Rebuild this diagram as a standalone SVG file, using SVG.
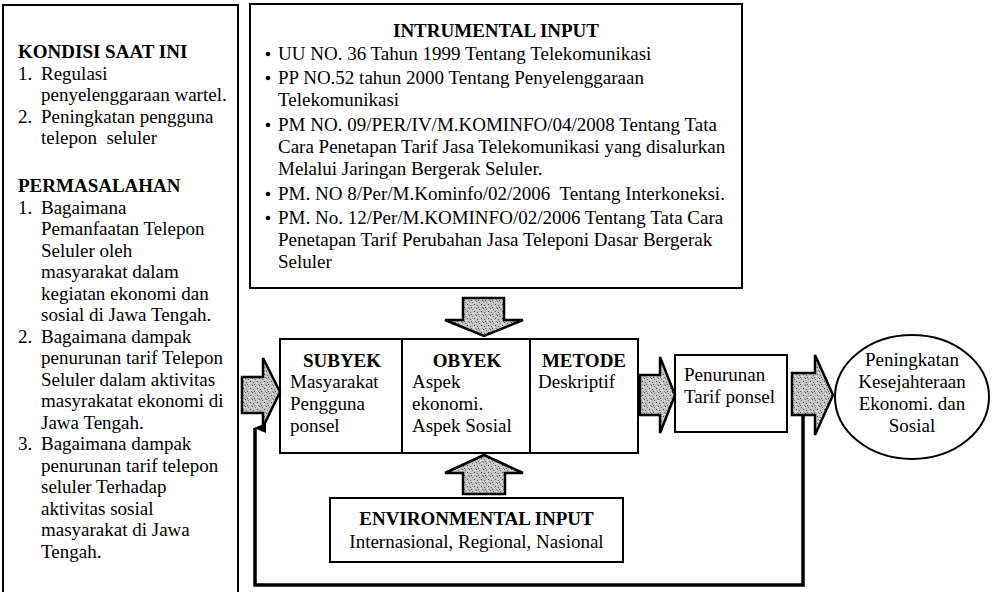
<svg xmlns="http://www.w3.org/2000/svg" width="1001" height="592" viewBox="0 0 1001 592">
<defs>
<pattern id="stip" width="7" height="7" patternUnits="userSpaceOnUse">
<rect width="7" height="7" fill="#c4c4c4"/>
<rect x="0" y="0" width="1" height="1" fill="#555"/>
<rect x="3" y="1" width="1" height="1" fill="#777"/>
<rect x="5" y="3" width="1" height="1" fill="#444"/>
<rect x="1" y="4" width="1" height="1" fill="#666"/>
<rect x="4" y="5" width="1" height="1" fill="#eee"/>
<rect x="2" y="6" width="1" height="1" fill="#555"/>
<rect x="6" y="6" width="1" height="1" fill="#888"/>
<rect x="6" y="1" width="1" height="1" fill="#f0f0f0"/>
</pattern>
<marker id="ah" viewBox="0 0 10 12" refX="5" refY="1" markerWidth="10" markerHeight="12" markerUnits="userSpaceOnUse" orient="auto-start-reverse">
<path d="M0,12 L5,0 L10,12 Z" fill="#000"/>
</marker>
</defs>
<style>
text{font-family:"Liberation Serif","Times New Roman",serif;font-size:19px;fill:#000}
.b{font-weight:bold}
.m{text-anchor:middle}
.box{fill:#fff;stroke:#000;stroke-width:2}
.ga{fill:url(#stip);stroke:#000;stroke-width:2.5;stroke-linejoin:miter}
.fb{fill:none;stroke:#000;stroke-width:3.5}
</style>
<rect width="1001" height="592" fill="#fff"/>

<g id="kondisi-permasalahan">
<rect class="box" x="3" y="5" width="235" height="600"/>
<text class="b" x="18" y="58">KONDISI SAAT INI</text>
<text x="18" y="79.5">1.</text><text x="41" y="79.5">Regulasi</text>
<text x="41" y="101">penyelenggaraan wartel.</text>
<text x="18" y="122.5">2.</text><text x="41" y="122.5">Peningkatan pengguna</text>
<text x="41" y="144" xml:space="preserve">telepon  seluler</text>
<text class="b" x="18" y="192">PERMASALAHAN</text>
<text x="18" y="213.5">1.</text><text x="41" y="213.5">Bagaimana</text>
<text x="41" y="235">Pemanfaatan Telepon</text>
<text x="41" y="256.5">Seluler oleh</text>
<text x="41" y="278">masyarakat dalam</text>
<text x="41" y="299.5">kegiatan ekonomi dan</text>
<text x="41" y="321">sosial di Jawa Tengah.</text>
<text x="18" y="342.5">2.</text><text x="41" y="342.5">Bagaimana dampak</text>
<text x="41" y="364">penurunan tarif Telepon</text>
<text x="41" y="385.5">Seluler dalam aktivitas</text>
<text x="41" y="407">masyrakatat ekonomi di</text>
<text x="41" y="428.5">Jawa Tengah.</text>
<text x="18" y="450">3.</text><text x="41" y="450">Bagaimana dampak</text>
<text x="41" y="471.5">penurunan tarif telepon</text>
<text x="41" y="493">seluler Terhadap</text>
<text x="41" y="514.5">aktivitas sosial</text>
<text x="41" y="536">masyarakat di Jawa</text>
<text x="41" y="557.5">Tengah.</text>
</g>

<g id="instrumental-input">
<rect class="box" x="250" y="4" width="492" height="284"/>
<text class="b m" x="496" y="37">INTRUMENTAL INPUT</text>
<circle cx="268" cy="54" r="2.3"/>
<text x="278" y="60">UU NO. 36 Tahun 1999 Tentang Telekomunikasi</text>
<circle cx="268" cy="78" r="2.3"/>
<text x="278" y="84">PP NO.52 tahun 2000 Tentang Penyelenggaraan</text>
<text x="278" y="106">Telekomunikasi</text>
<circle cx="268" cy="125" r="2.3"/>
<text x="278" y="131">PM NO. 09/PER/IV/M.KOMINFO/04/2008 Tentang Tata</text>
<text x="278" y="153">Cara Penetapan Tarif Jasa Telekomunikasi yang disalurkan</text>
<text x="278" y="175">Melalui Jaringan Bergerak Seluler.</text>
<circle cx="268" cy="194" r="2.3"/>
<text x="278" y="200" xml:space="preserve">PM. NO 8/Per/M.Kominfo/02/2006  Tentang Interkoneksi.</text>
<circle cx="268" cy="218" r="2.3"/>
<text x="278" y="224">PM. No. 12/Per/M.KOMINFO/02/2006 Tentang Tata Cara</text>
<text x="278" y="246">Penetapan Tarif Perubahan Jasa Teleponi Dasar Bergerak</text>
<text x="278" y="268">Seluler</text>
</g>

<g id="subyek">
<rect class="box" x="280" y="339" width="122" height="114"/>
<text class="b m" x="342" y="367">SUBYEK</text>
<text x="290" y="388">Masyarakat</text>
<text x="290" y="410">Pengguna</text>
<text x="290" y="432">ponsel</text>
</g>
<g id="obyek">
<rect class="box" x="402" y="339" width="128" height="114"/>
<text class="b m" x="467" y="367">OBYEK</text>
<text x="412" y="388">Aspek</text>
<text x="412" y="410">ekonomi.</text>
<text x="412" y="432">Aspek Sosial</text>
</g>
<g id="metode">
<rect class="box" x="530" y="339" width="108" height="114"/>
<text class="b m" x="584" y="367">METODE</text>
<text x="538" y="388">Deskriptif</text>
</g>

<g id="environmental-input">
<rect class="box" x="330" y="498" width="293" height="64"/>
<text class="b m" x="476.5" y="525">ENVIRONMENTAL INPUT</text>
<text class="m" x="476.5" y="548">Internasional, Regional, Nasional</text>
</g>

<g id="penurunan-tarif">
<rect class="box" x="675" y="355" width="112" height="77"/>
<text x="684" y="381">Penurunan</text>
<text x="684" y="403">Tarif ponsel</text>
</g>

<g id="peningkatan-kesejahteraan">
<ellipse cx="912" cy="397" rx="77" ry="62" fill="#fff" stroke="#000" stroke-width="2"/>
<text class="m" x="912" y="366">Peningkatan</text>
<text class="m" x="912" y="388">Kesejahteraan</text>
<text class="m" x="912" y="410">Ekonomi. dan</text>
<text class="m" x="912" y="432">Sosial</text>
</g>

<g id="connectors">
<path class="ga" d="M463,298 L504,298 L504,320 L523,320 L484,336 L445,320 L463,320 Z"/>
<path class="ga" d="M463,494 L505,494 L505,473 L523,473 L484,455 L445,473 L463,473 Z"/>
<path class="ga" d="M242,377 L263,377 L263,358 L280,392 L263,427 L263,413 L242,413 Z"/>
<path class="ga" d="M640,375 L660,375 L660,357 L675,395 L660,433 L660,415 L640,415 Z"/>
<path class="fb" d="M803,414 L803,585 L255,585 L255,428" marker-end="url(#ah)"/>
<path class="ga" d="M792,373 L815,373 L815,355 L833,395 L815,435 L815,415 L792,415 Z"/>
</g>
</svg>
